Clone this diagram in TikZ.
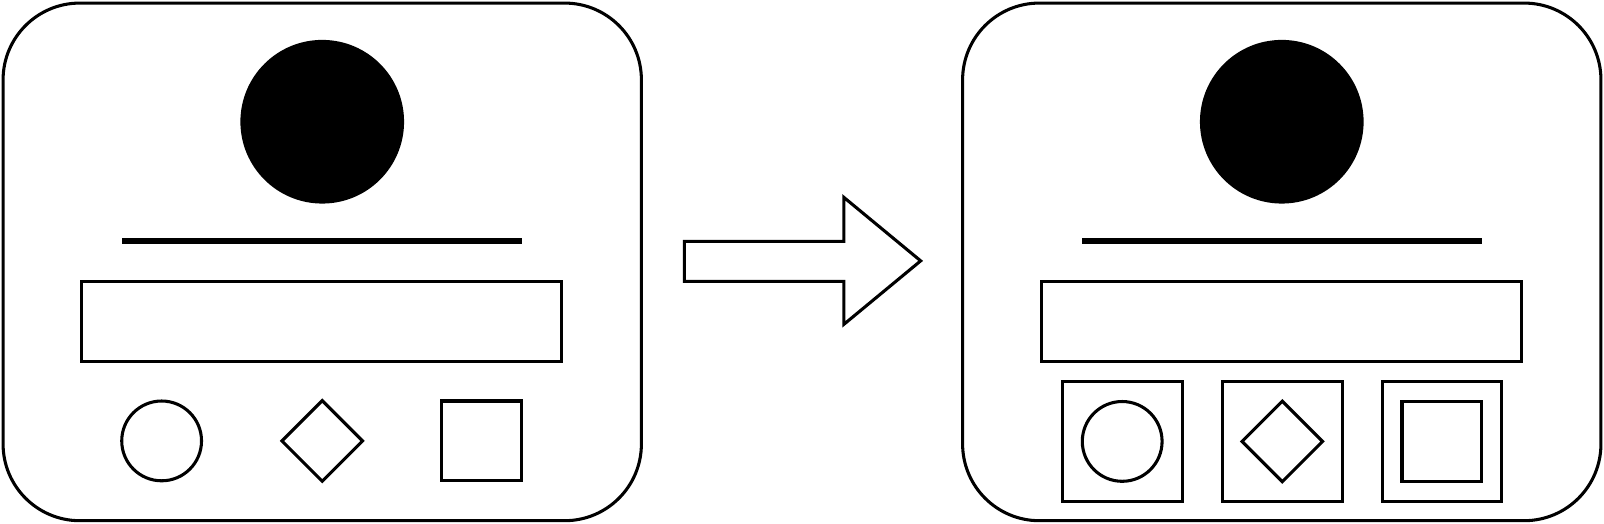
\documentclass[tikz,border=0pt]{standalone}
\usetikzlibrary{shapes.geometric}
\tikzset{
  card/.style={draw,rounded corners=75pt,minimum width=624pt,minimum height=506pt,inner sep=0pt},
  photo/.style={circle,fill=black,minimum size=160pt,inner sep=0pt},
  bar/.style={rectangle,fill=black,minimum width=391pt,minimum height=6pt,inner sep=0pt},
  field/.style={rectangle,draw,minimum width=469pt,minimum height=78pt,inner sep=0pt},
  iconc/.style={circle,draw,minimum size=78pt,inner sep=0pt},
  icond/.style={diamond,draw,minimum size=80pt,inner sep=0pt},
  icons/.style={rectangle,draw,minimum size=78pt,inner sep=0pt},
  slot/.style={rectangle,draw,minimum width=117pt,minimum height=117pt,inner sep=0pt}
}
\begin{document}
\begin{tikzpicture}[x=1pt,y=-1pt,line width=3pt]
  \useasboundingbox (0,0) rectangle (1568,512);
  % before
  \node[card]  (cardL)  at (315,256) {};
  \node[photo] (photoL) at (315,119) {};
  \node[bar]   (barL)   at (314.5,236) {};
  \node[field] (fieldL) at (314.5,314) {};
  \node[iconc] (circL)  at (158,431) {};
  \node[icond] (diamL)  at (315,431) {};
  \node[icons] (sqL)    at (471,431) {};
  % arrow
  \draw (669,236) -- (825,236) -- (825,193) -- (900,255) -- (825,317) -- (825,275) -- (669,275) -- cycle;
  % after
  \node[card]  (cardR)  at (1253,256) {};
  \node[photo] (photoR) at (1253,119) {};
  \node[bar]   (barR)   at (1253.5,236) {};
  \node[field] (fieldR) at (1253,314) {};
  \node[slot]  (slot1)  at (1097,431.5) {};
  \node[slot]  (slot2)  at (1253.5,431.5) {};
  \node[slot]  (slot3)  at (1409.5,431.5) {};
  \node[iconc] (circR)  at (slot1) {};
  \node[icond] (diamR)  at (slot2) {};
  \node[icons] (sqR)    at (slot3) {};
\end{tikzpicture}
\end{document}
